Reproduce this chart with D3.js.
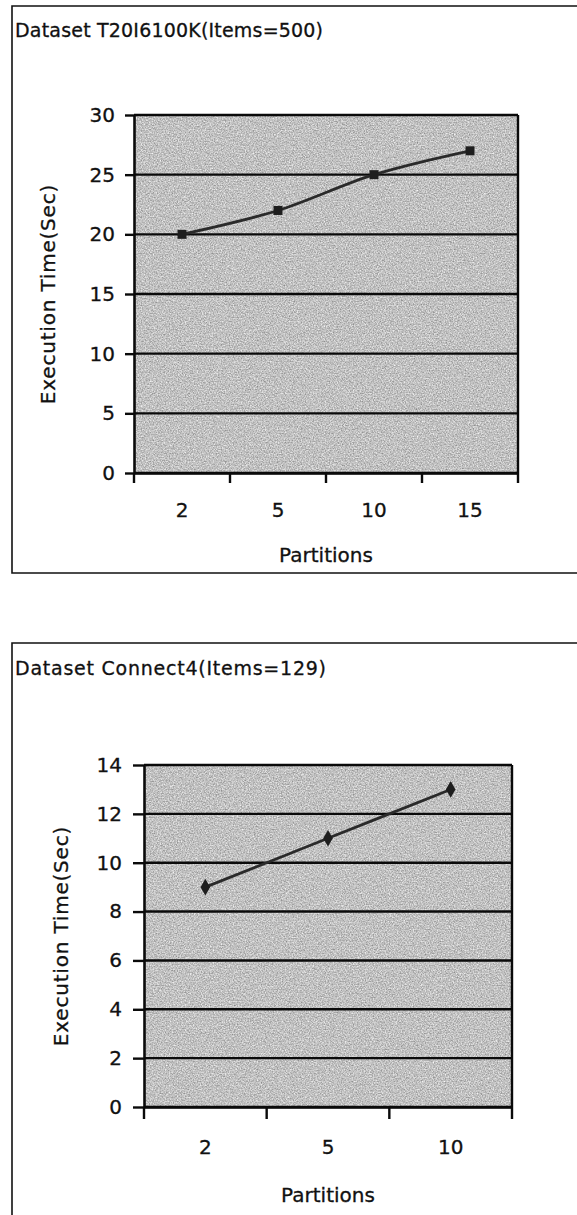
<!DOCTYPE html>
<html>
<head>
<meta charset="utf-8">
<script src="https://cdn.jsdelivr.net/npm/d3@7"></script>
<style>
  html, body { margin: 0; padding: 0; background: #fff; }
  svg { display: block; }
  text { font-family: "DejaVu Sans", "Liberation Sans", Arial, sans-serif; fill: #111; stroke: #111; stroke-width: 0.3px; }
</style>
</head>
<body>
<svg id="chart" width="577" height="1215"></svg>
<script>
// Execution time per number of partitions, two datasets
const partitionsA = ["2", "5", "10", "15"];
const timesA = [20, 22, 25, 27];
const yTicksA = [0, 5, 10, 15, 20, 25, 30];

const partitionsB = ["2", "5", "10"];
const timesB = [9, 11, 13];
const yTicksB = [0, 2, 4, 6, 8, 10, 12, 14];

const titles = ["Dataset T20I6100K(Items=500)", "Dataset Connect4(Items=129)"];
const xTitle = "Partitions";
const yTitle = "Execution Time(Sec)";

const svg = d3.select("#chart");

// grainy grey fill used for the plot areas
const defs = svg.append("defs");
const grain = defs.append("filter").attr("id", "grain")
  .attr("color-interpolation-filters", "sRGB")
  .attr("x", 0).attr("y", 0).attr("width", "100%").attr("height", "100%");
grain.append("feTurbulence").attr("type", "fractalNoise")
  .attr("baseFrequency", 0.75).attr("numOctaves", 2).attr("seed", 7).attr("result", "noise");
grain.append("feColorMatrix").attr("in", "noise").attr("type", "matrix")
  .attr("values", "0.55 0 0 0 0.48  0.55 0 0 0 0.48  0.55 0 0 0 0.48  0 0 0 0 1");

function drawChart(cfg) {
  const g = svg.append("g");

  // frame around the whole chart
  g.append("path")
    .attr("d", `M${cfg.frame.x1},${cfg.frame.y0}H${cfg.frame.x0}V${cfg.frame.y1}` + (cfg.frame.closedBottom ? `H${cfg.frame.x1}` : ""))
    .attr("fill", "none").attr("stroke", "#111").attr("stroke-width", 1.6);

  g.append("text")
    .attr("x", cfg.frame.x0 + 3).attr("y", cfg.titleY)
    .attr("font-size", 19).attr("dominant-baseline", "central")
    .attr("textLength", cfg.titleWidth).attr("lengthAdjust", "spacing")
    .attr("stroke-width", 0.4)
    .text(cfg.title);

  const x = d3.scaleBand().domain(cfg.cats).range([cfg.left, cfg.right]);
  const y = d3.scaleLinear().domain([0, d3.max(cfg.ticks)]).range([cfg.bottom, cfg.top]);

  // plot background
  g.append("rect")
    .attr("x", cfg.left).attr("y", cfg.top)
    .attr("width", cfg.right - cfg.left).attr("height", cfg.bottom - cfg.top)
    .attr("fill", "#bfbfbf").attr("filter", "url(#grain)");

  // horizontal gridlines
  g.append("g").selectAll("line").data(cfg.ticks).join("line")
    .attr("x1", cfg.left).attr("x2", cfg.right)
    .attr("y1", d => y(d)).attr("y2", d => y(d))
    .attr("stroke", "#0a0a0a").attr("stroke-width", 2.4);

  // right border of plot
  g.append("line")
    .attr("x1", cfg.right).attr("x2", cfg.right)
    .attr("y1", cfg.top).attr("y2", cfg.bottom)
    .attr("stroke", "#0a0a0a").attr("stroke-width", 2.4);

  const tickFont = 20;

  // y axis
  const yAxis = g.append("g").attr("transform", `translate(${cfg.left},0)`)
    .call(d3.axisLeft(y).tickValues(cfg.ticks).tickSize(cfg.yTick).tickPadding(cfg.yPad).tickSizeOuter(0));
  yAxis.select(".domain").attr("stroke", "#0a0a0a").attr("stroke-width", 2.6);
  yAxis.selectAll(".tick line").attr("stroke", "#0a0a0a").attr("stroke-width", 2.4);
  yAxis.selectAll(".tick text").attr("font-size", tickFont).attr("font-family", null).attr("fill", "#111");

  // x axis: labels centred on categories, ticks on category boundaries
  const xAxis = g.append("g").attr("transform", `translate(0,${cfg.bottom})`)
    .call(d3.axisBottom(x).tickSize(0).tickPadding(cfg.xPad).tickSizeOuter(0));
  xAxis.select(".domain").attr("stroke", "#0a0a0a").attr("stroke-width", 2.6);
  xAxis.selectAll(".tick text").attr("font-size", tickFont).attr("font-family", null).attr("fill", "#111");
  const bounds = cfg.cats.map(c => x(c)).concat([x(cfg.cats[cfg.cats.length - 1]) + x.bandwidth()]);
  g.append("g").selectAll("line").data(bounds).join("line")
    .attr("x1", d => d).attr("x2", d => d)
    .attr("y1", cfg.bottom).attr("y2", cfg.bottom + cfg.xTick)
    .attr("stroke", "#0a0a0a").attr("stroke-width", 2.4);

  // axis titles
  g.append("text")
    .attr("x", (cfg.left + cfg.right) / 2).attr("y", cfg.xTitleY)
    .attr("text-anchor", "middle").attr("dominant-baseline", "central")
    .attr("font-size", 20).text(xTitle);
  g.append("text")
    .attr("transform", `translate(${cfg.yTitleX},${(cfg.top + cfg.bottom) / 2}) rotate(-90)`)
    .attr("text-anchor", "middle").attr("dominant-baseline", "central")
    .attr("font-size", 20).attr("letter-spacing", 0.8).text(yTitle);

  // series line and markers
  const pts = cfg.cats.map((c, i) => [x(c) + x.bandwidth() / 2, y(cfg.values[i])]);
  g.append("path")
    .attr("d", d3.line().curve(d3.curveCatmullRom.alpha(0.5))(pts))
    .attr("fill", "none").attr("stroke", "#2a2a2a").attr("stroke-width", 2.8);
  g.append("g").selectAll("path").data(pts).join("path")
    .attr("transform", d => `translate(${d[0]},${d[1]})`)
    .attr("d", d3.symbol().type(cfg.marker).size(cfg.markerSize))
    .attr("fill", "#1e1e1e");
}

drawChart({
  title: titles[0], titleWidth: 308, cats: partitionsA, values: timesA, ticks: yTicksA,
  frame: { x0: 12, y0: 6, x1: 590, y1: 573, closedBottom: true },
  titleY: 30,
  left: 134, right: 518, top: 115, bottom: 473,
  yTick: 9, yPad: 10, xTick: 10, xPad: 30, xTitleY: 555, yTitleX: 48,
  marker: d3.symbolSquare, markerSize: 81
});

drawChart({
  title: titles[1], titleWidth: 311, cats: partitionsB, values: timesB, ticks: yTicksB,
  frame: { x0: 12, y0: 643, x1: 590, y1: 1230, closedBottom: false },
  titleY: 668,
  left: 144, right: 512, top: 765, bottom: 1107,
  yTick: 11, yPad: 11, xTick: 12, xPad: 33, xTitleY: 1195, yTitleX: 61,
  marker: d3.symbolDiamond, markerSize: 80
});
</script>
</body>
</html>
